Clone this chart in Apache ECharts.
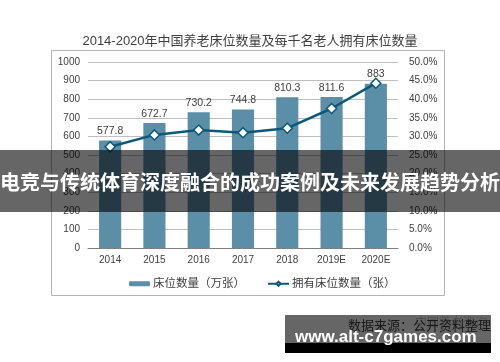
<!DOCTYPE html>
<html>
<head>
<meta charset="utf-8">
<script src="https://cdn.jsdelivr.net/npm/echarts@6/dist/echarts.min.js"></script>
<style>html,body{margin:0;padding:0;background:#fff;}#c{width:500px;height:362px;}</style>
</head>
<body>
<div id="c"></div>
<script>
var categories = ['2014', '2015', '2016', '2017', '2018', '2019E', '2020E'];
var bedCounts = [577.8, 672.7, 730.2, 744.8, 810.3, 811.6, 883];
var bedsPerThousand = [27.2, 30.4, 31.7, 31.0, 32.2, 37.5, 44.3];
var leftTicks = { min: 0, max: 1000, interval: 100 };
var rightTicks = { min: 0, max: 50, interval: 5 };
var titleText = '2014-2020年中国养老床位数量及每千名老人拥有床位数量';
var barName = '床位数量（万张）';
var lineName = '拥有床位数量（张）';
var bannerText = '电竞与传统体育深度融合的成功案例及未来发展趋势分析';
var sourceText = '数据来源：公开资料整理';
var logoText = '中国养老咨询';
var watermarkText = 'www.alt-c7games.com';

var FONT = '"Liberation Sans", "Noto Sans CJK SC", sans-serif';
var CJK = '"Noto Sans CJK SC", sans-serif';
var chart = echarts.init(document.getElementById('c'), null, { renderer: 'canvas' });
chart.setOption({
  animation: false,
  backgroundColor: '#ffffff',
  title: {
    text: titleText, left: 'center', top: 30,
    textStyle: { fontFamily: FONT, fontSize: 13, fontWeight: 'normal', color: '#404040' }
  },
  grid: { left: 88, right: 102, top: 62, bottom: 114 },
  legend: {
    left: 124, top: 273, itemWidth: 21, itemHeight: 5, itemGap: 22,
    textStyle: { fontFamily: FONT, fontSize: 11.5, color: '#404040', padding: [0, 0, 0, -2] },
    data: [barName, lineName]
  },
  xAxis: {
    type: 'category', data: categories,
    axisLine: { lineStyle: { color: '#7f7f7f', width: 1 } },
    axisTick: { show: false },
    axisLabel: { fontFamily: FONT, fontSize: 10, color: '#404040', margin: 7 }
  },
  yAxis: [
    {
      type: 'value', min: leftTicks.min, max: leftTicks.max, interval: leftTicks.interval,
      axisLine: { show: false }, axisTick: { show: false },
      axisLabel: { fontFamily: FONT, fontSize: 10, color: '#404040', margin: 8,
        formatter: function (v) { return String(v); } },
      splitLine: { lineStyle: { color: '#bfbfbf', width: 1 } }
    },
    {
      type: 'value', min: rightTicks.min, max: rightTicks.max, interval: rightTicks.interval,
      axisLine: { show: false }, axisTick: { show: false },
      axisLabel: { fontFamily: FONT, fontSize: 10, color: '#404040', margin: 11,
        formatter: function (v) { return v.toFixed(1) + '%'; } },
      splitLine: { show: false }
    }
  ],
  series: [
    {
      name: barName, type: 'bar', data: bedCounts, barWidth: '50%',
      itemStyle: { color: '#5b8fa7' },
      label: { show: true, position: 'top', distance: 4, fontFamily: FONT, fontSize: 10.5, color: '#404040' }
    },
    {
      name: lineName, type: 'line', yAxisIndex: 1, data: bedsPerThousand,
      lineStyle: { color: '#0b5878', width: 2.5 },
      itemStyle: { color: '#ffffff', borderColor: '#0b5878', borderWidth: 1.5 },
      symbol: 'diamond', symbolSize: 10, showSymbol: true, z: 5
    }
  ],
  graphic: [
    { type: 'rect', z: -10, shape: { x: 51.5, y: 50.5, width: 393, height: 245 },
      style: { fill: 'none', stroke: '#b3b3b3', lineWidth: 1 } },
    { type: 'text', z: 50, left: 415, top: 316,
      style: { text: logoText, fontFamily: CJK, fontSize: 12, fill: '#c8c8c8' } },
    { type: 'text', z: 50, left: 348, top: 319,
      style: { text: sourceText, fontFamily: CJK, fontSize: 13, fill: '#404040' } },
    { type: 'rect', z: 100, shape: { x: 0, y: 150, width: 500, height: 62 },
      style: { fill: 'rgba(0,0,0,0.6)' } },
    { type: 'text', z: 101, x: 250, y: 182,
      style: { text: bannerText, fontFamily: CJK, fontSize: 20, fontWeight: 'bold', fill: '#ffffff', align: 'center', verticalAlign: 'middle' } },
    { type: 'rect', z: 100, shape: { x: 285, y: 315, width: 206, height: 28 },
      style: { fill: 'rgba(0,0,0,0.6)' } },
    { type: 'rect', z: 100, shape: { x: 285, y: 343, width: 206, height: 10 },
      style: { fill: '#000000' } },
    { type: 'text', z: 101, x: 295, y: 337,
      style: { text: watermarkText, fontFamily: '"Liberation Sans", sans-serif', fontSize: 17, fontWeight: 'bold', fill: '#ffffff', align: 'left', verticalAlign: 'middle' } }
  ]
});
</script>
</body>
</html>
